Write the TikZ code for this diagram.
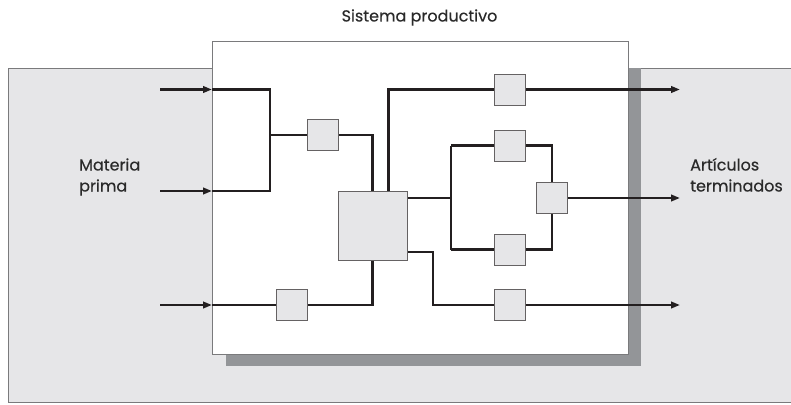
\documentclass[tikz,border=0pt]{standalone}
\usepackage{fontspec}
\setmainfont{Poppins}
\newfontfamily\capfont{Poppins}[FakeBold=0.35]
\usetikzlibrary{arrows.meta,calc}
\definecolor{panel}{HTML}{E6E6E8}
\definecolor{dropgrey}{HTML}{939598}
\definecolor{ink}{HTML}{231F20}
\definecolor{frame}{HTML}{7A7A7C}
\definecolor{txt}{HTML}{2A2A2A}
\tikzset{
  flow/.style={draw=ink, line width=2.8pt},
  inarrow/.style={flow, -{Triangle[length=9pt,width=6.5pt]}},
  stage/.style={draw=ink!70, line width=1pt, fill=panel, minimum width=31pt, minimum height=31pt, inner sep=0pt, outer sep=0pt},
  caption/.style={font=\capfont\fontsize{16}{21}\selectfont, text=txt, align=left, inner sep=0pt},
}
\begin{document}
\begin{tikzpicture}[x=1pt,y=-1pt]
\useasboundingbox (0,0) rectangle (791,404);
% environment and system boundary
\fill[panel] (8,68) rectangle (800,402);
\draw[frame, line width=0.8pt] (800,68) -- (8,68) -- (8,402) -- (800,402);
\fill[dropgrey] (226,68) rectangle (641,366);
\draw[frame, line width=1pt, fill=white] (212,42) rectangle (628,354);
\node[caption, anchor=base] (title) at (419.5,21.5) {Sistema productivo};
\node[caption, anchor=base west] (inlab) at (79,191.5) {Materia\\prima};
\node[caption, anchor=base west] (outlab) at (690,191.5) {Artículos\\terminados};

% stages
\node[stage] (A) at (322.5,135) {};
\node[stage, minimum width=69pt, minimum height=69pt] (big) at (372.5,225.5) {};
\node[stage] (B) at (509.5,89.5) {};
\node[stage] (C) at (509.5,145.5) {};
\node[stage] (D) at (552,198) {};
\node[stage] (E) at (509.5,249.5) {};
\node[stage] (F) at (509.5,305) {};
\node[stage] (G) at (291.5,305) {};

% entry points and junctions
\coordinate (s1) at (160,89.5);
\coordinate (s2) at (160,191);
\coordinate (s3) at (160,305);
\coordinate (e1) at (212,89.5);
\coordinate (e2) at (212,191);
\coordinate (e3) at (212,305);
\coordinate (m) at (270,135);
\coordinate (bo) at ($(big.north)+(16,0)$);
\coordinate (br1) at (big.east |- D.west);
\coordinate (br2) at ($(big.east)+(0,26.5)$);
\coordinate (split) at (451,198);
\coordinate (t1) at (680,89.5);
\coordinate (t2) at (680,198);
\coordinate (t3) at (680,305);

% inputs
\draw[inarrow] (s1) -- (e1);
\draw[inarrow] (s2) -- (e2);
\draw[inarrow] (s3) -- (e3);

% internal flows
\draw[flow, line join=miter] (e1) -| (m |- e2) -- (e2);
\draw[flow] (m) -- (A.west);
\draw[flow] (A.east) -| (big.north);
\draw[flow] (e3) -- (G.west);
\draw[flow] (G.east) -| (big.south);
\draw[flow] (bo) |- (B.west);
\draw[flow] (br1) -- (split);
\draw[flow] (split |- C.west) -- (split |- E.west);
\draw[flow] (split |- C.west) -- (C.west);
\draw[flow] (split |- E.west) -- (E.west);
\draw[flow] (C.east) -| (D.north);
\draw[flow] (E.east) -| (D.south);
\draw[flow] (br2) -- ++(26,0) |- (F.west);

% outputs
\draw[inarrow] (B.east) -- (t1);
\draw[inarrow] (D.east) -- (t2);
\draw[inarrow] (F.east) -- (t3);

% redraw stages above the flow lines
\foreach \n in {A,B,C,D,E,F,G}{\node[stage] at (\n) {};}
\node[stage, minimum width=69pt, minimum height=69pt] at (big) {};
\end{tikzpicture}
\end{document}
